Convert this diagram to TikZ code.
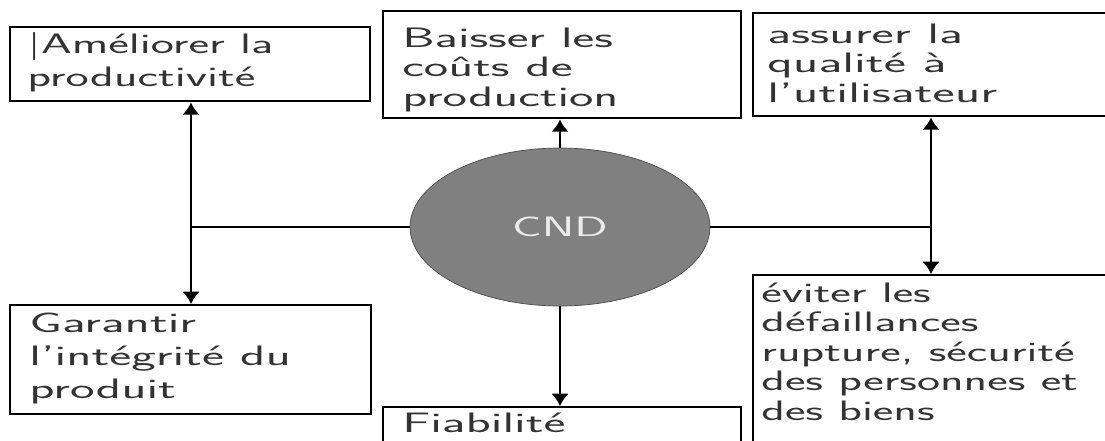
\documentclass[tikz,border=0pt]{standalone}
\usepackage{fontspec}
\usepackage{graphicx}
\usetikzlibrary{shapes.geometric,arrows.meta}

% texte etire comme dans la figure d'origine
\newcommand{\wide}[2][1.75]{\scalebox{#1}[1]{\begin{tabular}[t]{@{}l@{}}#2\end{tabular}}}

\begin{document}
\begin{tikzpicture}[x=0.02cm,y=-0.02cm]

\tikzstyle goal=[draw, line width=1.4pt, inner sep=0pt, anchor=north west]
\tikzstyle txt=[anchor=base west, inner sep=0pt, text=black!80, font=\sffamily\fontsize{16}{16.8}\selectfont]
\tikzstyle loose=[font=\sffamily\fontsize{16}{19}\selectfont]
\tikzstyle cnd=[ellipse, draw=black!70, fill=black!50, minimum width=6cm, minimum height=3.16cm, inner sep=0pt, text=black!8, font=\sffamily\fontsize{16}{17}\selectfont]
\tikzstyle hl=[line width=1.1pt]
\tikzstyle vl=[line width=1.6pt, -{Latex[length=7pt,width=10pt]}]

\useasboundingbox (0,0) rectangle (1105,440);
\clip (0,0) rectangle (1105,440);

\node (b1) [goal, minimum width=7.2cm,  minimum height=1.48cm] at (9,26)   {};
\node (b2) [goal, minimum width=7.16cm, minimum height=2.14cm] at (382,10) {};
\node (b3) [goal, minimum width=7.2cm,  minimum height=2.06cm] at (752,12) {};
\node (b4) [goal, minimum width=7.22cm, minimum height=2.18cm] at (9,304)  {};
\node (b5) [goal, minimum width=7.16cm, minimum height=2cm]    at (382,406) {};
\node (b6) [goal, minimum width=7.2cm,  minimum height=3.6cm]  at (752,274) {};

\node (t1) [txt, loose] at (27,53)  {\wide{|Améliorer la\\productivité}};
\node (t2) [txt] at (402,47)  {\wide[1.84]{Baisser les\\coûts de\\production}};
\node (t3) [txt] at (767,43)  {\wide[1.88]{assurer la\\qualité à\\l'utilisateur}};
\node (t4) [txt, loose] at (29,332) {\wide[1.86]{Garantir\\l'intégrité du\\produit}};
\node (t5) [txt] at (402,432) {\wide[1.86]{Fiabilité}};
\node (t6) [txt] at (761,302) {\wide[1.74]{éviter les\\défaillances\\rupture, sécurité\\des personnes et\\des biens}};

\node (c) [cnd] at (560,227) {\scalebox{1.75}[1]{CND}};

\coordinate (jl) at (191,227);
\coordinate (jr) at (931,227);

\draw [hl] (c.west) -- (jl);
\draw [hl] (c.east) -- (jr);

\draw [vl] (jl) -- (jl |- b1.south);
\draw [vl] (jl) -- (jl |- b4.north);
\draw [vl] (jr) -- (jr |- b3.south);
\draw [vl] (jr) -- (jr |- b6.north);
\draw [vl] (c.north) -- (c.north |- b2.south);
\draw [vl] (c.south) -- (c.south |- b5.north);

\end{tikzpicture}
\end{document}
